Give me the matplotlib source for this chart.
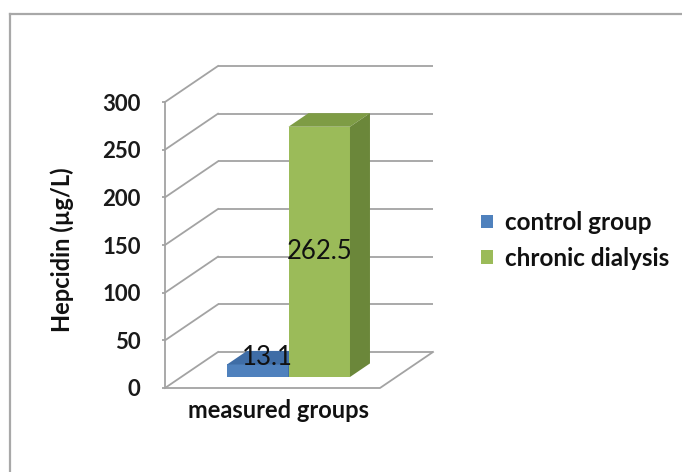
import matplotlib
matplotlib.use("Agg")
import matplotlib.pyplot as plt
from matplotlib.patches import Polygon, Rectangle, Patch
from matplotlib.lines import Line2D

# ---- data -------------------------------------------------------------
series = ["control group", "chronic dialysis"]
values = [13.1, 262.5]
category = "measured groups"
yticks = [0, 50, 100, 150, 200, 250, 300]
ylabel = "Hepcidin (µg/L)"

# ---- styling ----------------------------------------------------------
front_colors = ["#4F81BD", "#9BBB59"]
top_colors = ["#3F6DA6", "#7E9C45"]
side_colors = ["#345C8E", "#6B873A"]
grid_color = "#A3A3A3"
label_at = ["top", "middle"]          # where each value label sits on its bar
FONT = "Lato"

W, H = 682, 472
fig = plt.figure(figsize=(W / 100, H / 100), dpi=100)

# plot-area geometry in pixels (front wall + oblique depth)
px_left, px_right = 165, 380
px_zero, px_top = 388, 102
depth_px = (53, 36)
ymax_tick = 300

x_per_px = 1.0 / (px_right - px_left)
y_per_px = ymax_tick / (px_zero - px_top)
DX = depth_px[0] * x_per_px
DY = depth_px[1] * y_per_px

ax_w = (px_right - px_left + depth_px[0]) / W
ax_h = (px_zero - px_top + depth_px[1]) / H
ax = fig.add_axes([px_left / W, (H - px_zero) / H, ax_w, ax_h])
ax.set_xlim(-0.5, 0.5 + DX)
ax.set_ylim(0, ymax_tick + DY)
ax.patch.set_visible(False)

lw = 1.3
# back wall gridlines and left-wall diagonals
for v in yticks:
    ax.plot([-0.5 + DX, 0.5 + DX], [v + DY, v + DY], color=grid_color, lw=lw,
            clip_on=False, zorder=1, solid_capstyle="butt")
    ax.plot([-0.5, -0.5 + DX], [v, v + DY], color=grid_color, lw=lw,
            clip_on=False, zorder=1)
# floor
ax.plot([-0.5, 0.5, 0.5 + DX], [0, 0, DY], color=grid_color, lw=lw,
        clip_on=False, zorder=1)

# axis, ticks
for s in ["top", "right", "bottom"]:
    ax.spines[s].set_visible(False)
ax.spines["left"].set_bounds(0, ymax_tick)
ax.spines["left"].set_color(grid_color)
ax.spines["left"].set_linewidth(lw)
ax.set_xticks([])
ax.set_yticks(yticks)
ax.tick_params(axis="y", length=2.5, width=lw, color=grid_color, pad=15,
               labelsize=16)
for t in ax.get_yticklabels():
    t.set_fontfamily(FONT)
    t.set_fontweight("bold")
    t.set_color("#1a1a1a")

# ---- 3D bars ----------------------------------------------------------
gap = 0.213
bar_w = 0.286
d0, dlen = 0.306, 0.377
for i, (val, name) in enumerate(zip(values, series)):
    x0 = -0.5 + gap + i * bar_w + d0 * DX
    y0 = d0 * DY
    bx, by = dlen * DX, dlen * DY
    ax.add_patch(Rectangle((x0, y0), bar_w, val, facecolor=front_colors[i],
                           edgecolor="none", zorder=3 + i, clip_on=False))
    ax.add_patch(Polygon([(x0, y0 + val), (x0 + bar_w, y0 + val),
                          (x0 + bar_w + bx, y0 + val + by),
                          (x0 + bx, y0 + val + by)],
                         closed=True, facecolor=top_colors[i],
                         edgecolor="none", zorder=3 + i, clip_on=False))
    ax.add_patch(Polygon([(x0 + bar_w, y0), (x0 + bar_w, y0 + val),
                          (x0 + bar_w + bx, y0 + val + by),
                          (x0 + bar_w + bx, y0 + by)],
                         closed=True, facecolor=side_colors[i],
                         edgecolor="none", zorder=3 + i, clip_on=False))

for i, val in enumerate(values):
    x0 = -0.5 + gap + i * bar_w + d0 * DX
    y0 = d0 * DY
    xc = x0 + bar_w / 2
    if label_at[i] == "top":
        lx, ly = xc + dlen * DX / 2, y0 + val + dlen * DY / 2
    else:
        lx, ly = xc, y0 + val / 2
    ax.text(lx, ly, f"{val:g}", ha="center", va="center", fontsize=18.5,
            family=FONT, color="#111111", zorder=10, clip_on=False)

# ---- titles -----------------------------------------------------------
fig.text(62 / W, 1 - 250 / H, ylabel, rotation=90, ha="center", va="center",
         fontsize=17, fontweight="bold", family=FONT, color="#111111")
fig.text(278 / W, 1 - 410 / H, category, ha="center", va="center",
         fontsize=17, fontweight="bold", family=FONT, color="#111111")

# ---- legend -----------------------------------------------------------
handles = [Patch(facecolor=c, edgecolor="none") for c in front_colors]
leg = fig.legend(handles, series, loc="center left",
                 bbox_to_anchor=(481 / W, 1 - 240.5 / H), frameon=False,
                 prop={"family": FONT, "weight": "bold", "size": 17.5},
                 handlelength=0.5, handleheight=0.5, handletextpad=0.5,
                 labelspacing=0.52, borderpad=0, borderaxespad=0)
for t in leg.get_texts():
    t.set_color("#111111")

# ---- chart frame --------------------------------------------------------
fig.add_artist(Line2D([10 / W, 1.0], [1 - 14 / H, 1 - 14 / H],
                      transform=fig.transFigure, color="#A8A8A8", lw=1.6))
fig.add_artist(Line2D([10 / W, 10 / W], [1 - 14 / H, 0],
                      transform=fig.transFigure, color="#A8A8A8", lw=1.6))

fig.savefig("out.png", dpi=100, facecolor="white")
